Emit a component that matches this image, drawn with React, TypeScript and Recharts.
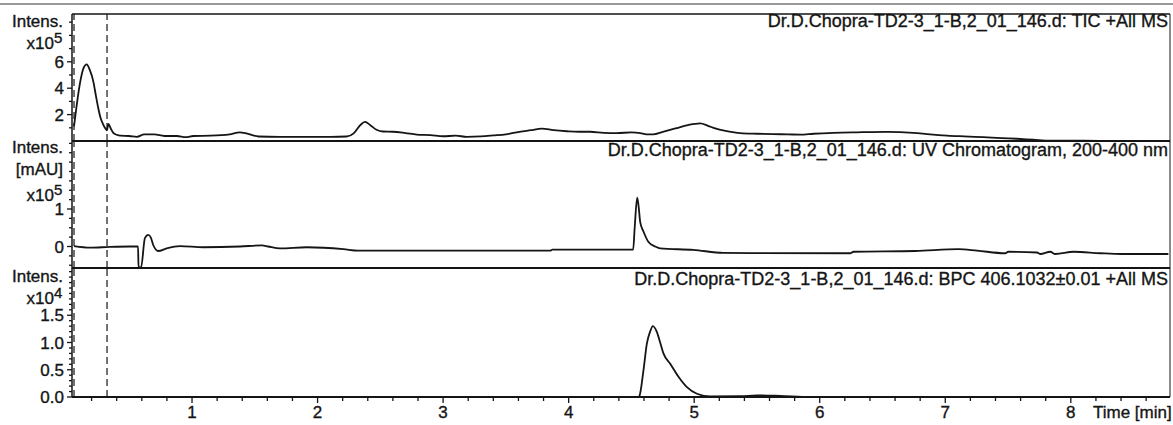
import React from "react";
import { LineChart, Line, XAxis, YAxis, ReferenceLine } from "recharts";

// time axis (min)
const X_MIN = 0.044;
const X_MAX = 8.79;
const X_TICKS = [
  0.2, 0.4, 0.6, 0.8, 1, 1.2, 1.4, 1.6, 1.8, 2, 2.2, 2.4, 2.6, 2.8, 3, 3.2, 3.4, 3.6, 3.8, 4,
  4.2, 4.4, 4.6, 4.8, 5, 5.2, 5.4, 5.6, 5.8, 6, 6.2, 6.4, 6.6, 6.8, 7, 7.2, 7.4, 7.6, 7.8, 8,
  8.2, 8.4, 8.6,
];
const X_LABELS = [1, 2, 3, 4, 5, 6, 7, 8];
const DASH_MARKS = [0.06, 0.323];

// TIC +All MS (x10^5)
const TIC_TIME = [
  0.06, 0.08, 0.108, 0.135, 0.161, 0.185, 0.214, 0.235, 0.253, 0.27, 0.29, 0.31, 0.322, 0.334,
  0.35, 0.373, 0.4, 0.43, 0.5, 0.56, 0.62, 0.7, 0.78, 0.88, 0.95, 1.01, 1.15, 1.3, 1.38, 1.44,
  1.53, 1.7, 1.9, 2.1, 2.23, 2.29, 2.34, 2.378, 2.42, 2.47, 2.52, 2.6, 2.7, 2.79, 2.9, 3.0, 3.1,
  3.19, 3.3, 3.4, 3.5, 3.587, 3.7, 3.786, 3.88, 3.986, 4.08, 4.171, 4.28, 4.384, 4.5, 4.57, 4.62,
  4.673, 4.75, 4.85, 4.95, 5.048, 5.11, 5.167, 5.26, 5.366, 5.5, 5.63, 5.75, 5.845, 5.95, 6.108,
  6.3, 6.535, 6.745, 6.88, 7.014, 7.15, 7.303, 7.45, 7.571, 7.7, 7.837, 8.1, 8.394, 8.77,
];
const TIC_INT = [
  1.1, 2.6, 4.4, 5.5, 5.8, 5.4, 4.5, 3.4, 2.5, 1.8, 1.3, 0.95, 0.8, 1.3,
  1.0, 0.62, 0.47, 0.4, 0.38, 0.32, 0.5, 0.5, 0.38, 0.38, 0.3, 0.38, 0.4, 0.5, 0.66, 0.55,
  0.34, 0.32, 0.32, 0.32, 0.34, 0.6, 1.2, 1.45, 1.2, 0.85, 0.72, 0.7, 0.6, 0.49, 0.45, 0.36, 0.4,
  0.32, 0.35, 0.42, 0.5, 0.66, 0.82, 0.94, 0.82, 0.74, 0.7, 0.7, 0.62, 0.6, 0.65, 0.6, 0.5,
  0.5, 0.7, 0.95, 1.2, 1.33, 1.15, 0.95, 0.75, 0.6, 0.55, 0.52, 0.5, 0.48, 0.55, 0.62,
  0.66, 0.69, 0.62, 0.5, 0.41, 0.35, 0.29, 0.22, 0.17, 0.1, 0.03, 0.02, 0.0, 0.0,
];

// UV chromatogram 200-400 nm (mAU x10^5)
const UV_TIME = [
  0.06, 0.187, 0.347, 0.506, 0.57, 0.574, 0.594, 0.625, 0.652, 0.673, 0.691, 0.731, 0.798, 0.904,
  1.088, 1.382, 1.558, 1.606, 1.701, 1.914, 2.206, 2.323, 2.817, 3.853, 3.87, 4.514, 4.526, 4.546,
  4.558, 4.57, 4.596, 4.636, 4.69, 4.729, 4.994, 5.233, 6.243, 6.269, 6.761, 7.106, 7.253, 7.478,
  7.502, 7.731, 7.757, 7.837, 7.876, 8.022, 8.235, 8.408, 8.777,
];
const UV_INT = [
  0.01, -0.03, -0.01, 0.0, 0.0, -0.56, -0.56, 0.23, 0.31, 0.23, 0.04, -0.12, -0.05, 0.01,
  -0.02, 0.0, 0.03, 0.0, -0.05, -0.02, -0.07, -0.11, -0.11, -0.11, -0.085, -0.08, 0.5, 1.3,
  1.05, 0.65, 0.4, 0.12, 0.0, -0.05, -0.09, -0.17, -0.18, -0.14, -0.12, -0.07, -0.11, -0.18,
  -0.14, -0.16, -0.2, -0.14, -0.2, -0.14, -0.18, -0.2, -0.2,
];

// BPC 406.1032±0.01 +All MS (x10^4)
const BPC_TIME = [
  0.044, 4.554, 4.564, 4.596, 4.623, 4.649, 4.671, 4.703, 4.729, 4.755, 4.809, 4.875, 4.942,
  5.022, 5.129, 5.37, 5.5, 5.685, 5.924, 8.79,
];
const BPC_INT = [
  0.0, 0.0, 0.02, 0.49, 0.98, 1.2, 1.3, 1.19, 1.0, 0.8, 0.61, 0.37, 0.18,
  0.06, 0.01, 0.015, 0.03, 0.02, 0.0, 0.0,
];

const TIC_TICKS = [1, 2, 3, 4, 5, 6, 7, 8, 9];
const TIC_LABELS: Record<string, string> = { "2": "2", "4": "4", "6": "6" };
const UV_TICKS = [-0.5, -0.25, 0, 0.25, 0.5, 0.75, 1, 1.25, 1.5, 1.75, 2, 2.25, 2.5, 2.75];
const UV_LABELS: Record<string, string> = { "0": "0", "1": "1" };
const BPC_TICKS = [
  0, 0.1, 0.2, 0.3, 0.4, 0.5, 0.6, 0.7, 0.8, 0.9, 1, 1.1, 1.2, 1.3, 1.4, 1.5, 1.6, 1.7, 1.8,
  1.9, 2, 2.1, 2.2, 2.3,
];
const BPC_LABELS: Record<string, string> = { "0": "0.0", "0.5": "0.5", "1": "1.0", "1.5": "1.5" };

const ticData = TIC_TIME.map((t, i) => ({ t, v: TIC_INT[i] }));
const uvData = UV_TIME.map((t, i) => ({ t, v: UV_INT[i] }));
const bpcData = BPC_TIME.map((t, i) => ({ t, v: BPC_INT[i] }));

const FONT = "'Liberation Sans', Arial, Helvetica, sans-serif";
const INK = "#151515";
const W = 1173;
const H = 425;

// scanned print looks a bit heavy, so give the glyphs a hairline outline
const TXT = { fontFamily: FONT, fill: INK, stroke: INK, strokeWidth: 0.35 } as const;

const YTick = (props: any) => {
  const { x, y, payload, labels } = props;
  const lab = labels[String(payload.value)];
  return (
    <g>
      <line x1={x - (lab ? 5 : 3)} x2={x} y1={y} y2={y} stroke={INK} strokeWidth={1.3} />
      {lab && (
        <text x={x - 8} y={y} dy="0.36em" textAnchor="end" fontSize={17} {...TXT}>
          {lab}
        </text>
      )}
    </g>
  );
};

const XTick = (props: any) => {
  const { x, y, payload } = props;
  const major = X_LABELS.find((v) => Math.abs(v - payload.value) < 1e-6);
  return (
    <g>
      <line x1={x} x2={x} y1={y} y2={y + (major ? 6 : 4)} stroke={INK} strokeWidth={1.3} />
      {major && (
        <text x={x} y={y + 21} textAnchor="middle" fontSize={17} {...TXT}>
          {major}
        </text>
      )}
    </g>
  );
};

function Panel({
  data, domain, ticks, labels, top, bottom, showX,
}: {
  data: { t: number; v: number }[];
  domain: [number, number];
  ticks: number[];
  labels: Record<string, string>;
  top: number;
  bottom: number;
  showX: boolean;
}) {
  return (
    <div style={{ position: "absolute", left: 0, top: 0 }}>
      <LineChart width={W} height={H} data={data} margin={{ top, right: 3, bottom, left: 0 }}>
        <XAxis
          dataKey="t"
          type="number"
          domain={[X_MIN, X_MAX]}
          allowDataOverflow
          hide={!showX}
          ticks={X_TICKS}
          interval={0}
          height={28}
          tickSize={0}
          tickMargin={0}
          tickLine={false}
          axisLine={{ stroke: INK, strokeWidth: 2 }}
          tick={(p: any) => <XTick {...p} />}
        />
        <YAxis
          type="number"
          domain={domain}
          allowDataOverflow
          ticks={ticks}
          interval={0}
          width={72}
          tickSize={0}
          tickMargin={0}
          tickLine={false}
          axisLine={{ stroke: INK, strokeWidth: 1.5 }}
          tick={(p: any) => <YTick {...p} labels={labels} />}
        />
        <ReferenceLine y={domain[1]} stroke={INK} strokeWidth={1.3} />
        {!showX && <ReferenceLine y={domain[0]} stroke={INK} strokeWidth={2} />}
        <ReferenceLine x={X_MAX} stroke={INK} strokeWidth={1} />
        {DASH_MARKS.map((m) => (
          <ReferenceLine key={m} x={m} stroke={INK} strokeWidth={1.2} strokeDasharray="7 4" />
        ))}
        <Line
          type="monotone"
          dataKey="v"
          stroke={INK}
          strokeWidth={1.8}
          dot={false}
          isAnimationActive={false}
        />
      </LineChart>
    </div>
  );
}

const PREFIX = "Dr.D.Chopra-TD2-3_1-B,2_01_146.d: ";

export default function App() {
  return (
    <div style={{ position: "absolute", left: 0, top: 0, width: W, height: H, background: "#fff" }}>
      <Panel data={ticData} domain={[0, 9.62]} ticks={TIC_TICKS} labels={TIC_LABELS} top={14} bottom={284} showX={false} />
      <Panel data={uvData} domain={[-0.573, 2.813]} ticks={UV_TICKS} labels={UV_LABELS} top={141} bottom={157} showX={false} />
      <Panel data={bpcData} domain={[0, 2.367]} ticks={BPC_TICKS} labels={BPC_LABELS} top={268} bottom={0} showX={true} />
      <svg width={W} height={H} style={{ position: "absolute", left: 0, top: 0, pointerEvents: "none" }}>
        <line x1={0} x2={W} y1={4} y2={4} stroke="#777" strokeWidth={1.5} />
        <text x={1168} y={27} textAnchor="end" fontSize={18} {...TXT}>{PREFIX + "TIC +All MS"}</text>
        <text x={1168} y={156} textAnchor="end" fontSize={18} {...TXT}>{PREFIX + "UV Chromatogram, 200-400 nm"}</text>
        <text x={1168} y={285} textAnchor="end" fontSize={18} {...TXT}>{PREFIX + "BPC 406.1032±0.01 +All MS"}</text>

        <text x={63} y={27} textAnchor="end" fontSize={17} {...TXT}>Intens.</text>
        <text x={54} y={49} textAnchor="end" fontSize={17} {...TXT}>x10</text>
        <text x={54} y={43} fontSize={15} {...TXT}>5</text>

        <text x={63} y={153} textAnchor="end" fontSize={17} {...TXT}>Intens.</text>
        <text x={63} y={175} textAnchor="end" fontSize={17} {...TXT}>[mAU]</text>
        <text x={54} y={201} textAnchor="end" fontSize={17} {...TXT}>x10</text>
        <text x={54} y={195} fontSize={15} {...TXT}>5</text>

        <text x={63} y={282} textAnchor="end" fontSize={17} {...TXT}>Intens.</text>
        <text x={54} y={304} textAnchor="end" fontSize={17} {...TXT}>x10</text>
        <text x={54} y={298} fontSize={15} {...TXT}>4</text>

        <text x={1093} y={418} fontSize={17} {...TXT}>Time [min]</text>
      </svg>
    </div>
  );
}
